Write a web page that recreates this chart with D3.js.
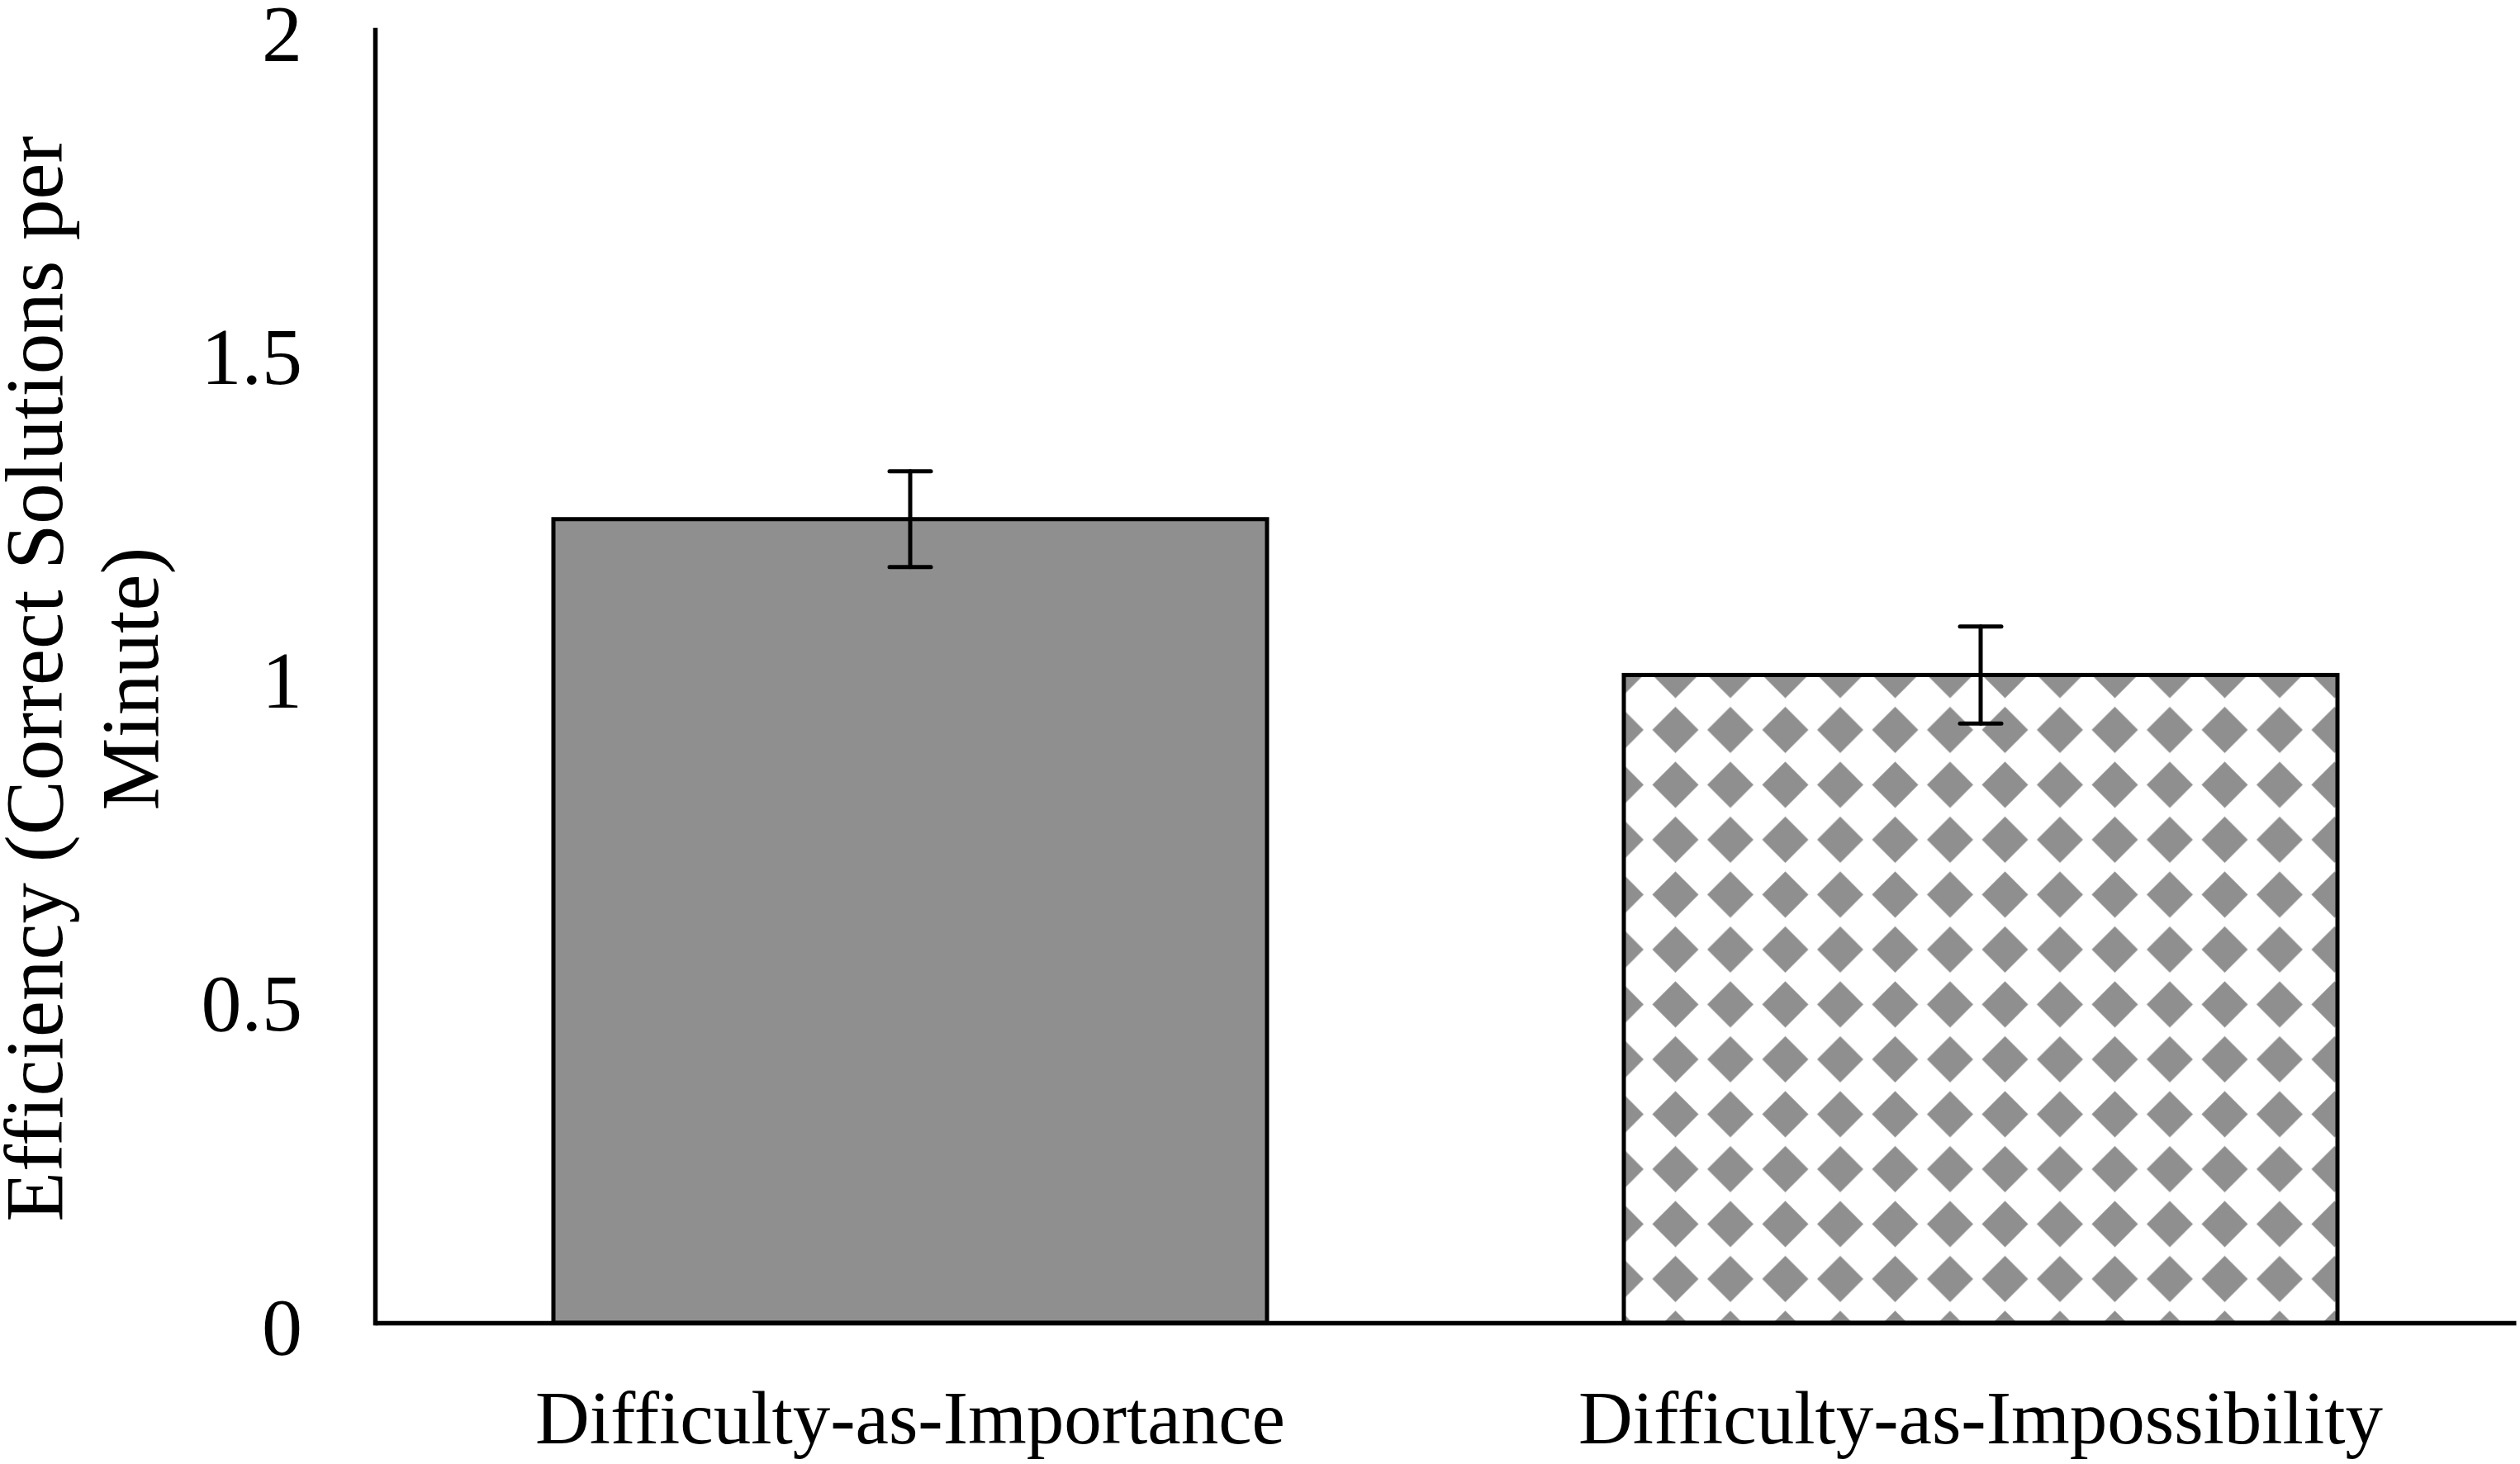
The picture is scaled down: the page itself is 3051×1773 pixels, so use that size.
<!DOCTYPE html>
<html lang="en">
<head>
  <meta charset="UTF-8" />
  <title>Efficiency by Difficulty Framing</title>
  <script src="https://d3js.org/d3.v7.min.js"></script>
  <style>
    body {
      margin: 0;
      background: #fff;
    }
    svg {
      display: block;
      font-family: 'Liberation Serif', 'Times New Roman', serif;
    }
  </style>
</head>
<body>
  <div id="chart"></div>

  <script>
    // values
    const categories = ["Difficulty-as-Importance", "Difficulty-as-Impossibility"];
    const means = [1.243, 1.002];
    const errors = [0.074, 0.075];
    const yTicks = [0, 0.5, 1, 1.5, 2];
    const yTitle = ["Efficiency (Correct Solutions per", "Minute)"];

    const width = 3051;
    const height = 1773;
    const margin = { top: 36, right: 5, bottom: 171, left: 454 };
    const grey = "#8f8f8f";

    const rows = categories.map((c, i) => ({ cat: c, mean: means[i], err: errors[i], i }));

    const svg = d3.select("#chart")
      .append("svg")
      .attr("width", width)
      .attr("height", height);

    svg.append("rect")
      .attr("width", width)
      .attr("height", height)
      .attr("fill", "#fff");

    const x = d3.scaleBand()
      .domain(categories)
      .range([margin.left, width - margin.right])
      .paddingInner(1 / 3)
      .paddingOuter(1 / 6);

    const y = d3.scaleLinear()
      .domain([0, 2])
      .range([height - margin.bottom, margin.top]);

    // diamond fill for the second bar, tied to the bar's own corner
    const tile = 66.5;
    const half = 28;
    const defs = svg.append("defs");
    const pat = defs.append("pattern")
      .attr("id", "diamonds")
      .attr("patternUnits", "userSpaceOnUse")
      .attr("width", tile)
      .attr("height", tile)
      .attr("x", x(categories[1]) - 4 - tile / 2)
      .attr("y", y(means[1]) - tile / 2);
    pat.append("rect")
      .attr("width", tile)
      .attr("height", tile)
      .attr("fill", "#fff");
    pat.append("path")
      .attr("d", `M${tile / 2},${tile / 2 - half} L${tile / 2 + half},${tile / 2} L${tile / 2},${tile / 2 + half} L${tile / 2 - half},${tile / 2} Z`)
      .attr("fill", grey);

    // bars
    svg.append("g")
      .selectAll("rect")
      .data(rows)
      .join("rect")
      .attr("x", d => x(d.cat))
      .attr("y", d => y(d.mean))
      .attr("width", x.bandwidth())
      .attr("height", d => y(0) - y(d.mean))
      .attr("fill", d => d.i === 0 ? grey : "url(#diamonds)")
      .attr("stroke", "#000")
      .attr("stroke-width", 5);

    // error bars
    const capW = 25;
    const eb = svg.append("g")
      .attr("stroke", "#000")
      .attr("stroke-width", 5)
      .attr("stroke-linecap", "round")
      .selectAll("g")
      .data(rows)
      .join("g")
      .attr("transform", d => `translate(${x(d.cat) + x.bandwidth() / 2},0)`);

    eb.append("line")
      .attr("y1", d => y(d.mean + d.err))
      .attr("y2", d => y(d.mean - d.err));
    eb.append("line")
      .attr("x1", -capW).attr("x2", capW)
      .attr("y1", d => y(d.mean + d.err))
      .attr("y2", d => y(d.mean + d.err));
    eb.append("line")
      .attr("x1", -capW).attr("x2", capW)
      .attr("y1", d => y(d.mean - d.err))
      .attr("y2", d => y(d.mean - d.err));

    // y axis
    const yAxis = svg.append("g")
      .attr("transform", `translate(${margin.left},0)`)
      .call(d3.axisLeft(y)
        .tickValues(yTicks)
        .tickFormat(d3.format("~g"))
        .tickSize(0)
        .tickPadding(88));
    yAxis.select(".domain")
      .attr("stroke", "#000")
      .attr("stroke-width", 5.5)
      .attr("stroke-linecap", "square");
    yAxis.selectAll("text")
      .attr("font-family", "'Liberation Serif', serif")
      .attr("font-size", 98)
      .attr("fill", "#000")
      .attr("dy", "0.38em");

    // x axis
    const xAxis = svg.append("g")
      .attr("transform", `translate(0,${y(0)})`)
      .call(d3.axisBottom(x).tickSize(0).tickPadding(81));
    xAxis.select(".domain")
      .attr("stroke", "#000")
      .attr("stroke-width", 5.5);
    xAxis.selectAll("text")
      .attr("font-family", "'Liberation Serif', serif")
      .attr("font-size", 91)
      .attr("fill", "#000")
      .attr("dy", "0.71em");

    // axis title, two lines, rotated
    const title = svg.append("text")
      .attr("transform", `translate(75,${(y(0) + y(2)) / 2 + 3}) rotate(-90)`)
      .attr("text-anchor", "middle")
      .attr("font-size", 99)
      .attr("fill", "#000");
    title.selectAll("tspan")
      .data(yTitle)
      .join("tspan")
      .attr("x", 0)
      .attr("y", (d, i) => i * 116)
      .text(d => d);
  </script>
</body>
</html>
